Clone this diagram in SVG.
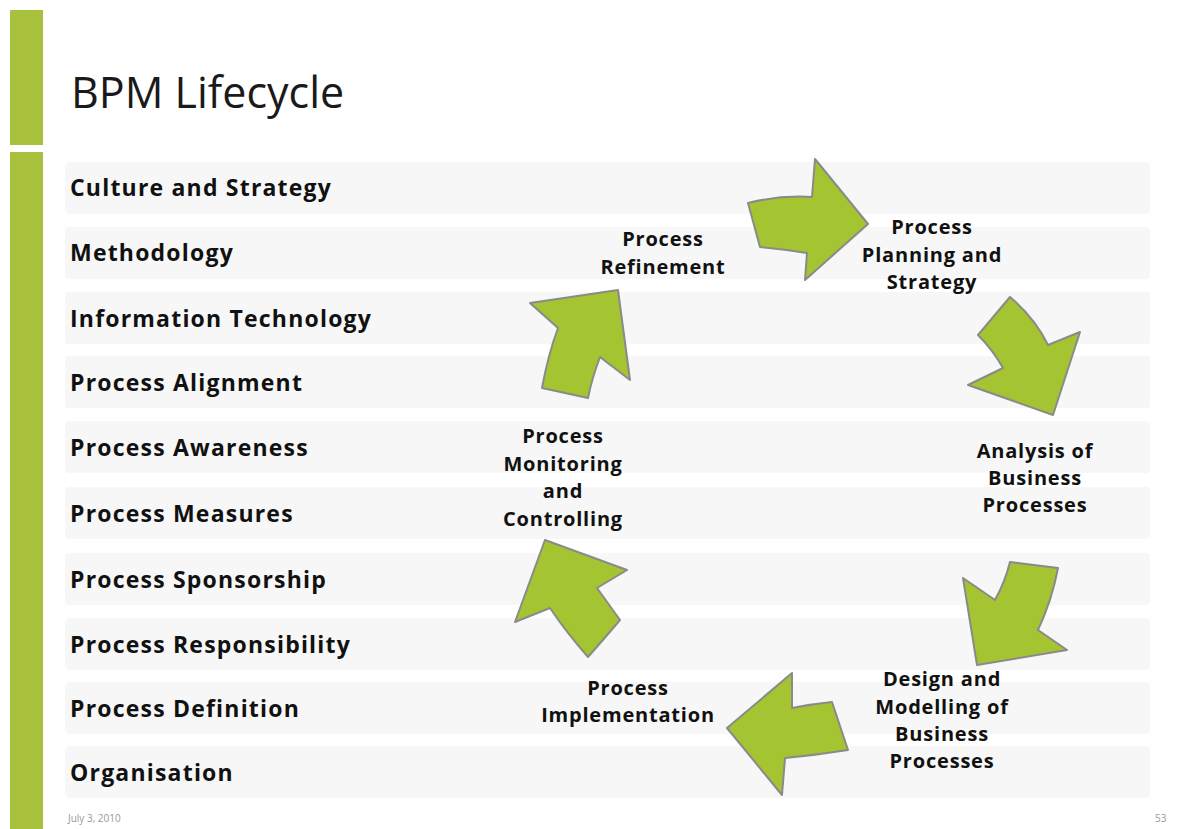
<svg xmlns="http://www.w3.org/2000/svg" width="1179" height="829" viewBox="0 0 1179 829">
  <defs>
    <style>
      text { font-variant-ligatures: none; }
      .bar { fill: #a8c13c; }
      .band { fill: #f7f7f7; }
      .title { font-family: "Open Sans", "Liberation Sans", sans-serif; font-size: 43px; fill: #1a1a1a; }
      .row { font-family: "Open Sans", "Liberation Sans", sans-serif; font-weight: bold; font-size: 23px; letter-spacing: 1.2px; fill: #111; }
      .lbl { font-family: "Open Sans", "Liberation Sans", sans-serif; font-weight: bold; font-size: 20px; letter-spacing: 0.8px; fill: #111; text-anchor: middle; }
      .foot { font-family: "Open Sans", "Liberation Sans", sans-serif; font-size: 10px; fill: #999; }
      .arrow { fill: #a5c431; stroke: #8a8a8a; stroke-width: 2; stroke-linejoin: round; }
    </style>
  </defs>

  <rect width="1179" height="829" fill="#ffffff"/>

  <!-- accent bars -->
  <rect class="bar" x="10" y="10" width="33" height="135"/>
  <rect class="bar" x="10" y="152" width="33" height="677"/>

  <text class="title" x="71" y="108">BPM Lifecycle</text>

  <!-- row bands -->
  <g id="bands">
    <rect class="band" x="65" y="162" width="1085" height="52" rx="4"/>
    <rect class="band" x="65" y="227" width="1085" height="52" rx="4"/>
    <rect class="band" x="65" y="292" width="1085" height="52" rx="4"/>
    <rect class="band" x="65" y="356" width="1085" height="52" rx="4"/>
    <rect class="band" x="65" y="421" width="1085" height="52" rx="4"/>
    <rect class="band" x="65" y="487" width="1085" height="52" rx="4"/>
    <rect class="band" x="65" y="553" width="1085" height="52" rx="4"/>
    <rect class="band" x="65" y="618" width="1085" height="52" rx="4"/>
    <rect class="band" x="65" y="682" width="1085" height="52" rx="4"/>
    <rect class="band" x="65" y="746" width="1085" height="52" rx="4"/>
  </g>

  <!-- maturity factors -->
  <g id="factors">
    <text class="row" x="70" y="196">Culture and Strategy</text>
    <text class="row" x="70" y="261">Methodology</text>
    <text class="row" x="70" y="327">Information Technology</text>
    <text class="row" x="70" y="391">Process Alignment</text>
    <text class="row" x="70" y="456">Process Awareness</text>
    <text class="row" x="70" y="522">Process Measures</text>
    <text class="row" x="70" y="588">Process Sponsorship</text>
    <text class="row" x="70" y="653">Process Responsibility</text>
    <text class="row" x="70" y="717">Process Definition</text>
    <text class="row" x="70" y="781">Organisation</text>
  </g>

  <!-- cycle arrows -->
  <g id="connectors">
    <path class="arrow" d="M748,203 Q780,195 812,197 L815,159 L868,224 L805,280 L807,253 Q782,249 760,247 Z"/>
    <path class="arrow" d="M1010,297 Q1035,318 1048,345 L1080,332 L1053,415 L968,385 L1003,368 Q993,350 978,335 Z"/>
    <path class="arrow" d="M1058,568 Q1052,600 1038,630 L1067,650 L977,665 L963,578 L995,600 Q1005,582 1010,562 Z"/>
    <path class="arrow" d="M848,750 Q817,755 785,758 L782,795 L727,728 L792,673 L792,708 Q812,704 832,702 Z"/>
    <path class="arrow" d="M588,657 Q603,640 620,620 L597,588 L627,570 L545,540 L515,622 L550,608 Q566,632 588,657 Z"/>
    <path class="arrow" d="M542,388 Q548,355 558,328 L530,303 L618,290 L630,380 L600,357 Q592,378 588,398 Z"/>
  </g>

  <!-- stage labels -->
  <g id="refinement">
    <text class="lbl" x="663" y="246">Process</text>
    <text class="lbl" x="663" y="274">Refinement</text>
  </g>
  <g id="planning">
    <text class="lbl" x="932" y="234">Process</text>
    <text class="lbl" x="932" y="262">Planning and</text>
    <text class="lbl" x="932" y="289">Strategy</text>
  </g>
  <g id="analysis">
    <text class="lbl" x="1035" y="458">Analysis of</text>
    <text class="lbl" x="1035" y="485">Business</text>
    <text class="lbl" x="1035" y="512">Processes</text>
  </g>
  <g id="design">
    <text class="lbl" x="942" y="686">Design and</text>
    <text class="lbl" x="942" y="714">Modelling of</text>
    <text class="lbl" x="942" y="741">Business</text>
    <text class="lbl" x="942" y="768">Processes</text>
  </g>
  <g id="implementation">
    <text class="lbl" x="628" y="695">Process</text>
    <text class="lbl" x="628" y="722">Implementation</text>
  </g>
  <g id="monitoring">
    <text class="lbl" x="563" y="443">Process</text>
    <text class="lbl" x="563" y="471">Monitoring</text>
    <text class="lbl" x="563" y="498">and</text>
    <text class="lbl" x="563" y="526">Controlling</text>
  </g>

  <text class="foot" x="68" y="822">July 3, 2010</text>
  <text class="foot" x="1155" y="822">53</text>
</svg>
